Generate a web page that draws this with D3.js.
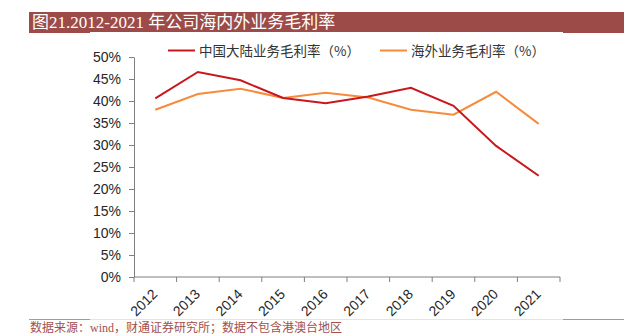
<!DOCTYPE html>
<html><head><meta charset="utf-8">
<script src="https://cdn.jsdelivr.net/npm/d3@7"></script>
<style>body{margin:0;background:#fff}svg{display:block}</style>
</head><body><svg id="c" width="628" height="336"></svg>
<script>
const years = ["2012","2013","2014","2015","2016","2017","2018","2019","2020","2021"];
const mainland = [40.6, 46.6, 44.7, 40.7, 39.5, 41.0, 43.0, 38.9, 29.8, 23.0];
const overseas = [38.0, 41.6, 42.8, 40.7, 41.9, 40.8, 38.0, 36.9, 42.1, 34.8];
const yTicks = [0,5,10,15,20,25,30,35,40,45,50];
const seriesNames = ["中国大陆业务毛利率（%）","海外业务毛利率（%）"];
const titleText = "图21.2012-2021 年公司海内外业务毛利率";
const sourceText = "数据来源：wind，财通证券研究所；数据不包含港澳台地区";

const svg = d3.select("#c");
const serif = "'Liberation Serif','Noto Sans CJK SC',serif";
const sans = "'Liberation Sans',Arial,sans-serif";
const cjk = "'Noto Sans CJK SC',sans-serif";
const red = "#C8171E", orange = "#F68B3C", brown = "#9C4B48";

// title bar
svg.append("rect").attr("x",29).attr("y",12).attr("width",595).attr("height",21).attr("fill",brown);
svg.append("rect").attr("x",90).attr("y",32).attr("width",473).attr("height",1.5).attr("fill","#fff");
svg.append("text").attr("x",32).attr("y",28).attr("fill","#fff")
  .style("font-family",serif).style("font-size","17px").text(titleText);

const x = d3.scaleBand().domain(years).range([134,560]).padding(0);
const y = d3.scaleLinear().domain([0,50]).range([277,57]);
const axisColor = "#7f7f7f";

// y axis
const ya = svg.append("g").attr("transform","translate(134,0)")
  .call(d3.axisLeft(y).tickValues(yTicks).tickFormat(d=>d+"%").tickSize(5).tickSizeOuter(0));
ya.select(".domain").attr("stroke",axisColor);
ya.selectAll(".tick line").attr("stroke",axisColor);
ya.selectAll(".tick text").attr("x",-13).attr("fill","#262626")
  .style("font-family",sans).style("font-size","14px");

// x axis
const xg = svg.append("g");
xg.append("line").attr("x1",x.range()[0]).attr("x2",x.range()[1]).attr("y1",y(0)).attr("y2",y(0)).attr("stroke",axisColor);
const edges = years.map(d=>x(d)).concat([x.range()[1]]);
xg.selectAll("line.t").data(edges).enter().append("line").attr("class","t")
  .attr("x1",d=>d).attr("x2",d=>d).attr("y1",y(0)).attr("y2",y(0)+5).attr("stroke",axisColor);
xg.selectAll("text").data(years).enter().append("text")
  .attr("transform",d=>`translate(${x(d)+x.bandwidth()/2+3},295) rotate(-45)`)
  .attr("text-anchor","end").attr("fill","#262626")
  .style("font-family",sans).style("font-size","14px").text(d=>d);

// lines
const line = d3.line().x((d,i)=>x(years[i])+x.bandwidth()/2).y(d=>y(d));
svg.append("path").datum(overseas).attr("d",line).attr("fill","none").attr("stroke",orange).attr("stroke-width",2);
svg.append("path").datum(mainland).attr("d",line).attr("fill","none").attr("stroke",red).attr("stroke-width",2);

// legend
const lg = [{n:seriesNames[0],c:red,x:168},{n:seriesNames[1],c:orange,x:380}];
lg.forEach(l=>{
  svg.append("line").attr("x1",l.x).attr("x2",l.x+27).attr("y1",50.5).attr("y2",50.5).attr("stroke",l.c).attr("stroke-width",2);
  svg.append("text").attr("x",l.x+31).attr("y",55.5).attr("fill","#333")
    .style("font-family",cjk).style("font-size","13.5px").text(l.n);
});

// footer
svg.append("line").attr("x1",29).attr("x2",624).attr("y1",319.5).attr("y2",319.5).attr("stroke","#f1dede");
svg.append("line").attr("x1",29).attr("x2",90).attr("y1",319.5).attr("y2",319.5).attr("stroke","#c48c8a");
svg.append("line").attr("x1",563).attr("x2",624).attr("y1",319.5).attr("y2",319.5).attr("stroke","#c48c8a");
svg.append("text").attr("x",30).attr("y",332).attr("fill","#a2504c")
  .style("font-family",serif).style("font-size","12px").text(sourceText);
</script></body></html>
